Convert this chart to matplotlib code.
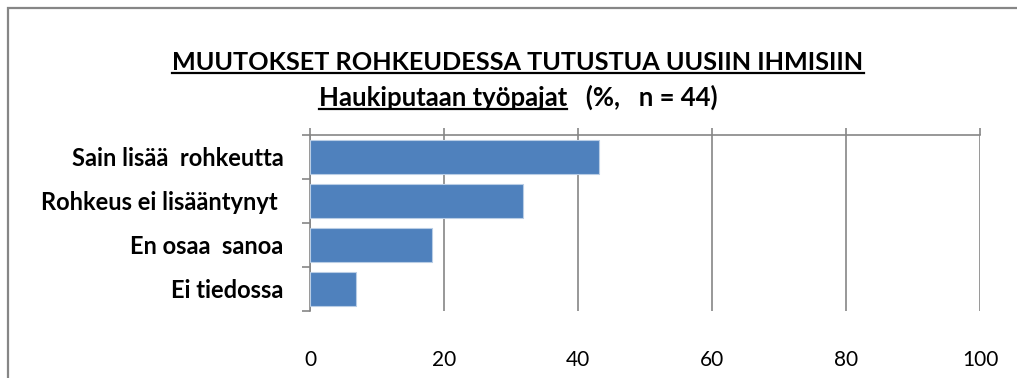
import matplotlib
matplotlib.use("Agg")
import matplotlib.pyplot as plt
from matplotlib.lines import Line2D
from matplotlib.patches import Rectangle

# Survey answers (n = 44), share of respondents in percent
categories = ["Sain lisää  rohkeutta", "Rohkeus ei lisääntynyt ", "En osaa  sanoa", "Ei tiedossa"]
counts = [19, 14, 8, 3]
n_total = 44
shares = [c / n_total * 100 for c in counts]
x_ticks = [0, 20, 40, 60, 80, 100]

title_1 = "MUUTOKSET ROHKEUDESSA TUTUSTUA UUSIIN IHMISIIN"
title_2a = "Haukiputaan työpajat"
title_2b = "   (%,   n = 44)"

plt.rcParams["font.family"] = ["Lato", "DejaVu Sans"]
grey = "#868686"
W, H = 1017, 378

fig = plt.figure(figsize=(W / 100, H / 100), dpi=100)
ax = fig.add_axes([310 / W, 1 - 311 / H, 670 / W, 176 / H])

ypos = list(range(len(categories)))
ax.barh(ypos, shares, height=0.77, color="#4F81BD", edgecolor="#B9CDE5", linewidth=0.8, zorder=3)

ax.set_xlim(0, 100)
ax.set_ylim(len(categories) - 0.5, -0.5)

# value axis: line on top, labels below the plot
ax.set_xticks(x_ticks)
ax.tick_params(axis="x", top=True, bottom=False, labeltop=False, labelbottom=True,
               direction="out", length=5, width=1.2, color=grey, pad=23, labelsize=15)
ax.grid(axis="x", color=grey, linewidth=1.2, zorder=1)

# category axis: ticks between categories
ax.set_yticks(ypos)
ax.set_yticklabels(categories, fontweight="bold", fontsize=17)
ax.set_yticks([i - 0.5 for i in range(len(categories) + 1)], minor=True)
ax.tick_params(axis="y", which="major", length=0, pad=19)
ax.tick_params(axis="y", which="minor", length=6, width=1.2, color=grey, direction="out")

for side in ["bottom", "right"]:
    ax.spines[side].set_visible(False)
for side in ["top", "left"]:
    ax.spines[side].set_color(grey)
    ax.spines[side].set_linewidth(1.2)

# chart frame
fig.add_artist(Rectangle((8 / W, -0.2), 1.2, (H - 8) / H + 0.2, transform=fig.transFigure,
                         fill=False, edgecolor=grey, linewidth=1.6))

# titles with underlines
cx = 518 / W
t1 = fig.text(cx, 1 - 70 / H, title_1, ha="center", va="baseline", fontsize=18.2, fontweight="bold")
t2a = fig.text(0, 1 - 106 / H, title_2a, ha="left", va="baseline", fontsize=18.5, fontweight="bold")
t2b = fig.text(0, 1 - 106 / H, title_2b, ha="left", va="baseline", fontsize=18.5, fontweight="bold")

fig.canvas.draw()
r = fig.canvas.get_renderer()
wa = t2a.get_window_extent(r).width
wb = t2b.get_window_extent(r).width
x0 = cx * W - (wa + wb) / 2
t2a.set_x(x0 / W)
t2b.set_x((x0 + wa) / W)
fig.canvas.draw()

def underline(t, ybase):
    bb = t.get_window_extent(r)
    y = (H - ybase - 3) / H
    fig.add_artist(Line2D([bb.x0 / W, bb.x1 / W], [y, y], transform=fig.transFigure,
                          color="black", linewidth=1.6))

underline(t1, 70)
underline(t2a, 106)

fig.savefig("out.png", dpi=100)
